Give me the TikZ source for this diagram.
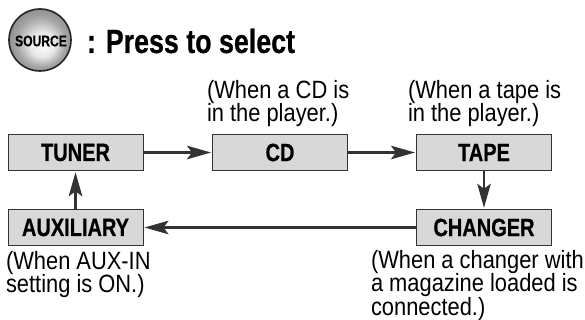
\documentclass[tikz,border=0pt]{standalone}
\usepackage{fontspec}
\setmainfont{Liberation Sans}
\newfontfamily\condreg[FakeStretch=0.875]{Liberation Sans}
\newfontfamily\condbold[FakeStretch=0.80,FakeBold=0.6]{Liberation Sans Bold}
\newfontfamily\btnfont[FakeStretch=0.78,FakeBold=0.2]{Liberation Sans Bold}
\usetikzlibrary{arrows.meta,shadings}
\definecolor{boxfill}{HTML}{D8D8D8}
\definecolor{ink}{HTML}{333333}
\pgfdeclareradialshading{btnshade}{\pgfpoint{0.1cm}{-0.2cm}}{
  color(0cm)=(white!95!gray);
  color(0.35cm)=(white!82!gray);
  color(0.7cm)=(gray!70!white);
  color(1cm)=(gray!95!white)}
\tikzset{
  modebox/.style={draw=ink,line width=0.9pt,fill=boxfill,minimum width=135pt,minimum height=36.5pt,inner sep=0pt,outer sep=0pt,font=\condbold\fontsize{25}{25}\selectfont,text=black},
  flow/.style={draw=ink,line width=2.2pt,-{Stealth[length=24pt,width=13.5pt,inset=5pt]},shorten >=1.5pt,shorten <=0pt},
  noteline/.style={inner sep=0pt,outer sep=0pt,align=left,anchor=north west,font=\condreg\fontsize{25}{23.5}\selectfont,text=black}
}
\begin{document}
\begin{tikzpicture}[x=1pt,y=-1pt]
\useasboundingbox (0,0) rectangle (585,320);
\node[circle,minimum size=62pt,inner sep=0pt,outer sep=0pt,draw=black!85,line width=1.6pt,shading=btnshade] (btn) at (40,40) {};
\node[font=\btnfont\fontsize{15.5}{15}\selectfont,text=black,inner sep=0pt] (btnlabel) at (41,41) {SOURCE};
\node[anchor=west,inner sep=0pt,outer sep=0pt,font=\condbold\fontsize{33.5}{33}\selectfont] (title) at (87,41) {: Press to select};

\node[modebox] (tuner) at (75.5,152.5) {TUNER};
\node[modebox] (cd) at (280,152.5) {CD};
\node[modebox] (tape) at (484,152.5) {TAPE};
\node[modebox] (changer) at (484,227.5) {CHANGER};
\node[modebox] (aux) at (75.5,227.5) {AUXILIARY};

\draw[flow] (tuner) -- (cd);
\draw[flow] (cd) -- (tape);
\draw[flow] (tape) -- (changer);
\draw[flow] (changer) -- (aux);
\draw[flow] (aux) -- (tuner);

\node[noteline] (ncd) at (207,80) {(When a CD is\\in the player.)};
\node[noteline] (ntape) at (408,80) {(When a tape is\\in the player.)};
\node[noteline] (nchanger) at (371,250) {(When a changer with\\a magazine loaded is\\connected.)};
\node[noteline] (naux) at (6,251) {(When AUX-IN\\setting is ON.)};
\end{tikzpicture}
\end{document}
